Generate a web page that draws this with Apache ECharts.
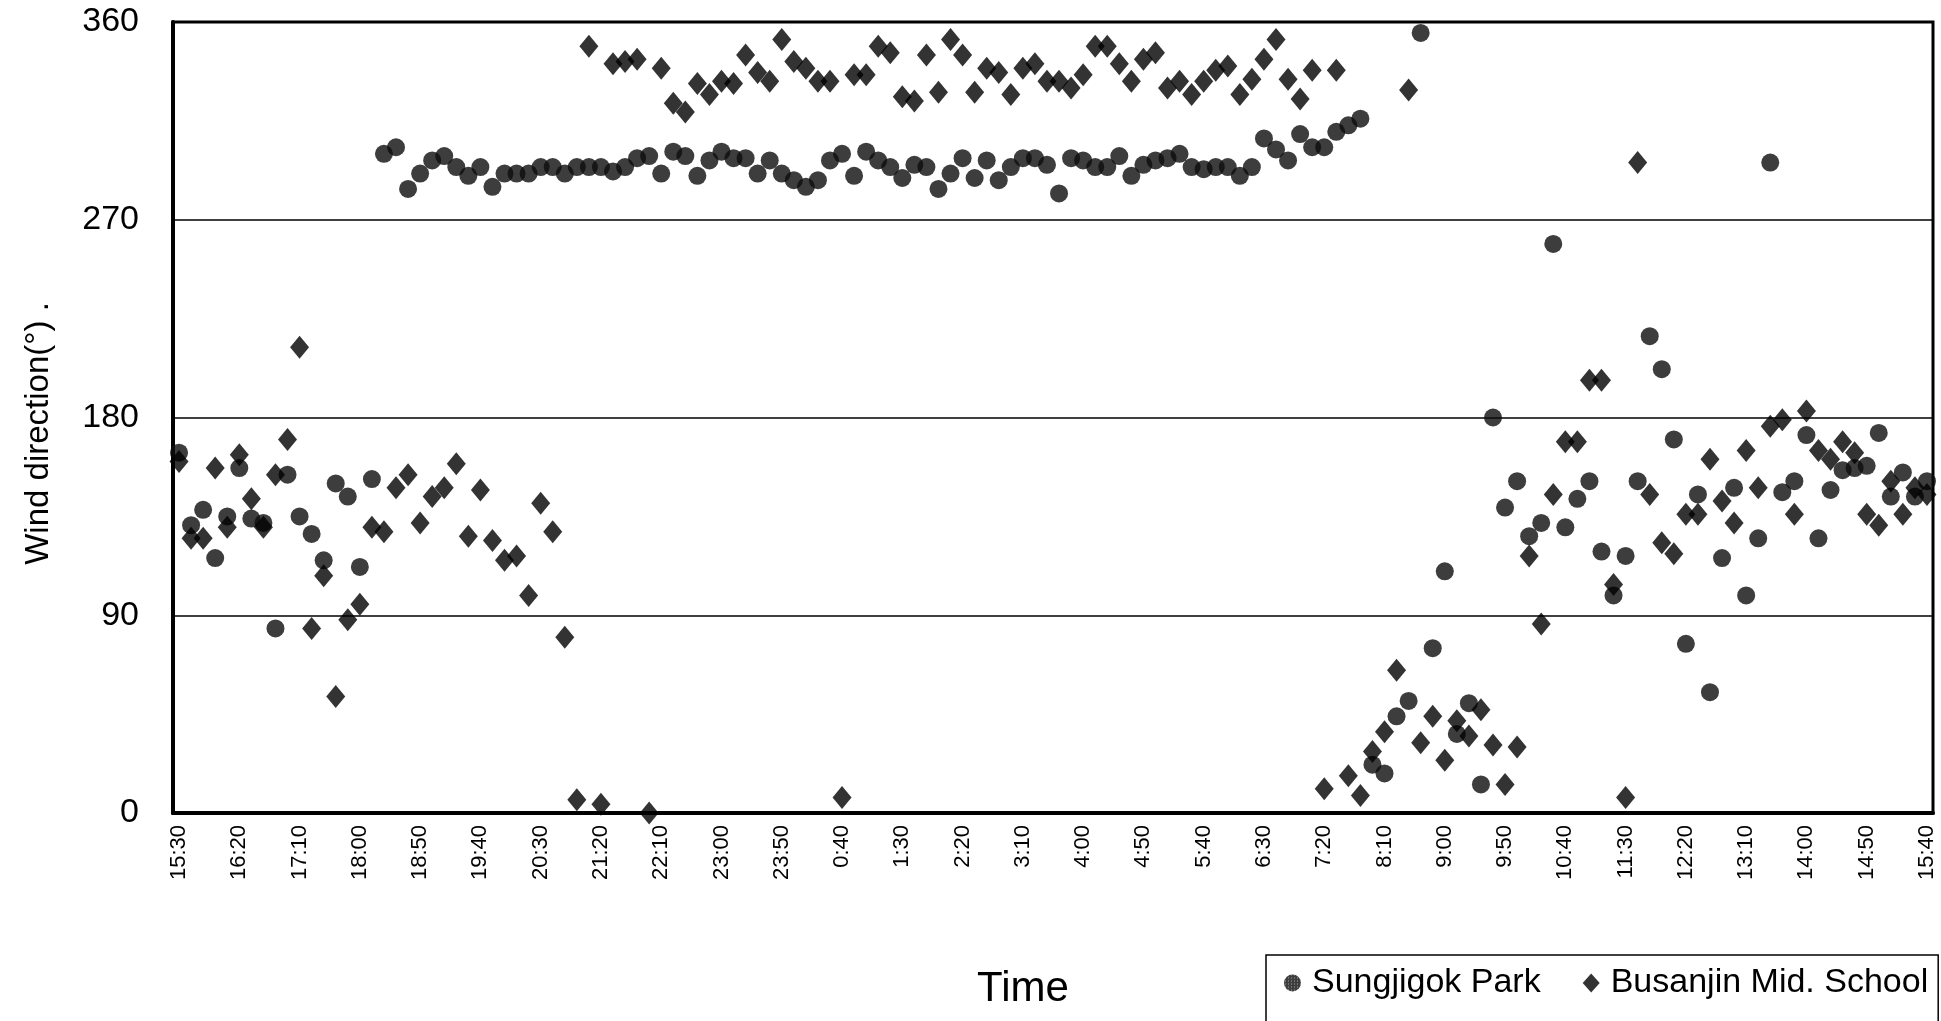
<!DOCTYPE html>
<html>
<head>
<meta charset="utf-8">
<title>Wind direction</title>
<script src="https://cdn.jsdelivr.net/npm/echarts@6/dist/echarts.min.js"></script>
<style>
  html, body { margin: 0; padding: 0; background: #fff; }
  #main { width: 1941px; height: 1021px; }
</style>
</head>
<body>
<div id="main"></div>
<script>
// 10-minute records, 15:30 to 15:40 next day
const times = [
  '15:30','15:40','15:50','16:00','16:10','16:20','16:30','16:40','16:50',
  '17:00','17:10','17:20','17:30','17:40','17:50',
  '18:00','18:10','18:20','18:30','18:40','18:50',
  '19:00','19:10','19:20','19:30','19:40','19:50',
  '20:00','20:10','20:20','20:30','20:40','20:50',
  '21:00','21:10','21:20','21:30','21:40','21:50',
  '22:00','22:10','22:20','22:30','22:40','22:50',
  '23:00','23:10','23:20','23:30','23:40','23:50',
  '0:00','0:10','0:20','0:30','0:40','0:50',
  '1:00','1:10','1:20','1:30','1:40','1:50',
  '2:00','2:10','2:20','2:30','2:40','2:50',
  '3:00','3:10','3:20','3:30','3:40','3:50',
  '4:00','4:10','4:20','4:30','4:40','4:50',
  '5:00','5:10','5:20','5:30','5:40','5:50',
  '6:00','6:10','6:20','6:30','6:40','6:50',
  '7:00','7:10','7:20','7:30','7:40','7:50',
  '8:00','8:10','8:20','8:30','8:40','8:50',
  '9:00','9:10','9:20','9:30','9:40','9:50',
  '10:00','10:10','10:20','10:30','10:40','10:50',
  '11:00','11:10','11:20','11:30','11:40','11:50',
  '12:00','12:10','12:20','12:30','12:40','12:50',
  '13:00','13:10','13:20','13:30','13:40','13:50',
  '14:00','14:10','14:20','14:30','14:40','14:50',
  '15:00','15:10','15:20','15:30','15:40'
];

const sungjigok = [
  164, 131, 138, 116, 135, 157, 134, 132, 84, 154,
  135, 127, 115, 150, 144, 112, 152, 300, 303, 284,
  291, 297, 299, 294, 290, 294, 285, 291, 291, 291,
  294, 294, 291, 294, 294, 294, 292, 294, 298, 299,
  291, 301, 299, 290, 297, 301, 298, 298, 291, 297,
  291, 288, 285, 288, 297, 300, 290, 301, 297, 294,
  289, 295, 294, 284, 291, 298, 289, 297, 288, 294,
  298, 298, 295, 282, 298, 297, 294, 294, 299, 290,
  295, 297, 298, 300, 294, 293, 294, 294, 290, 294,
  307, 302, 297, 309, 303, 303, 310, 313, 316, 22,
  18, 44, 51, 355, 75, 110, 36, 50, 13, 180,
  139, 151, 126, 132, 259, 130, 143, 151, 119, 99,
  117, 151, 217, 202, 170, 77, 145, 55, 116, 148,
  99, 125, 296, 146, 151, 172, 125, 147, 156, 157,
  158, 173, 144, 155, 144, 151
];

const busanjin = [
  160, 125, 125, 157, 130, 163, 143, 130, 154, 170,
  212, 84, 108, 53, 88, 95, 130, 128, 148, 154,
  132, 144, 148, 159, 126, 147, 124, 115, 117, 99,
  141, 128, 80, 6, 349, 4, 341, 342, 343, 0,
  339, 323, 319, 332, 327, 333, 332, 345, 337, 333,
  352, 342, 339, 333, 333, 7, 336, 336, 349, 346,
  326, 324, 345, 328, 352, 345, 328, 339, 337, 327,
  339, 341, 333, 333, 330, 336, 349, 349, 341, 333,
  343, 346, 330, 333, 327, 333, 338, 340, 327, 334,
  343, 352, 334, 325, 338, 11, 338, 17, 8, 28,
  37, 65, 329, 32, 44, 24, 42, 35, 47, 31,
  13, 30, 117, 86, 145, 169, 169, 197, 197, 104,
  7, 296, 145, 123, 118, 136, 136, 161, 142, 132,
  165, 148, 176, 179, 136, 183, 165, 161, 169, 164,
  136, 131, 151, 136, 148, 145
];

const yTicks = [0, 90, 180, 270, 360];

// speckled fill like the printed dots
function speckle() {
  const c = document.createElement('canvas');
  c.width = 3; c.height = 3;
  const g = c.getContext('2d');
  g.fillStyle = '#0d0d0d';
  g.fillRect(0, 0, 3, 3);
  g.fillStyle = '#8a8a8a';
  g.fillRect(1, 1, 1, 1);
  return c;
}

const font = "'Liberation Sans', Arial, Helvetica, sans-serif";
const myChart = echarts.init(document.getElementById('main'));
const option = {
  animation: false,
  backgroundColor: '#fff',
  textStyle: { fontFamily: font, color: '#000' },
  grid: {
    left: 173, right: 8, top: 22, bottom: 208,
    show: true, borderColor: '#000', borderWidth: 3
  },
  legend: {
    left: 1266, top: 955,
    orient: 'horizontal',
    borderColor: '#000', borderWidth: 1.5,
    padding: [11, 10, 40, 18],
    itemGap: 42,
    itemWidth: 17, itemHeight: 19,
    textStyle: { fontSize: 34, fontFamily: font, color: '#000', padding: [0, 0, 0, 6] },
    data: ['Sungjigok Park', 'Busanjin Mid. School']
  },
  xAxis: {
    type: 'category',
    data: times,
    boundaryGap: true,
    name: 'Time',
    nameLocation: 'middle',
    nameGap: 155,
    nameTextStyle: { fontSize: 42, color: '#000', padding: [0, 60, 0, 0] },
    axisLine: { lineStyle: { color: '#000', width: 4 } },
    axisTick: { interval: 0, inside: true, length: 6, lineStyle: { color: '#000', width: 1.5 } },
    axisLabel: { interval: 4, rotate: 90, fontSize: 22, color: '#000', margin: 12 },
    splitLine: { show: false }
  },
  yAxis: {
    type: 'value',
    min: yTicks[0],
    max: yTicks[yTicks.length - 1],
    interval: yTicks[1] - yTicks[0],
    name: 'Wind direction(°) .',
    nameLocation: 'middle',
    nameGap: 118,
    nameTextStyle: { fontSize: 33, color: '#000', padding: [0, 32, 0, 0] },
    axisLine: { show: true, lineStyle: { color: '#000', width: 4 } },
    axisTick: { show: false },
    axisLabel: { fontSize: 34, color: '#000', margin: 34 },
    splitLine: { lineStyle: { color: '#000', width: 1.5 } }
  },
  series: [
    {
      name: 'Sungjigok Park',
      type: 'scatter',
      symbol: 'circle',
      symbolSize: 18,
      itemStyle: { color: { image: speckle(), repeat: 'repeat' } },
      data: sungjigok
    },
    {
      name: 'Busanjin Mid. School',
      type: 'scatter',
      symbol: 'diamond',
      symbolSize: [19, 23],
      itemStyle: { color: '#000' },
      data: busanjin
    }
  ]
};
myChart.setOption(option);
</script>
</body>
</html>
